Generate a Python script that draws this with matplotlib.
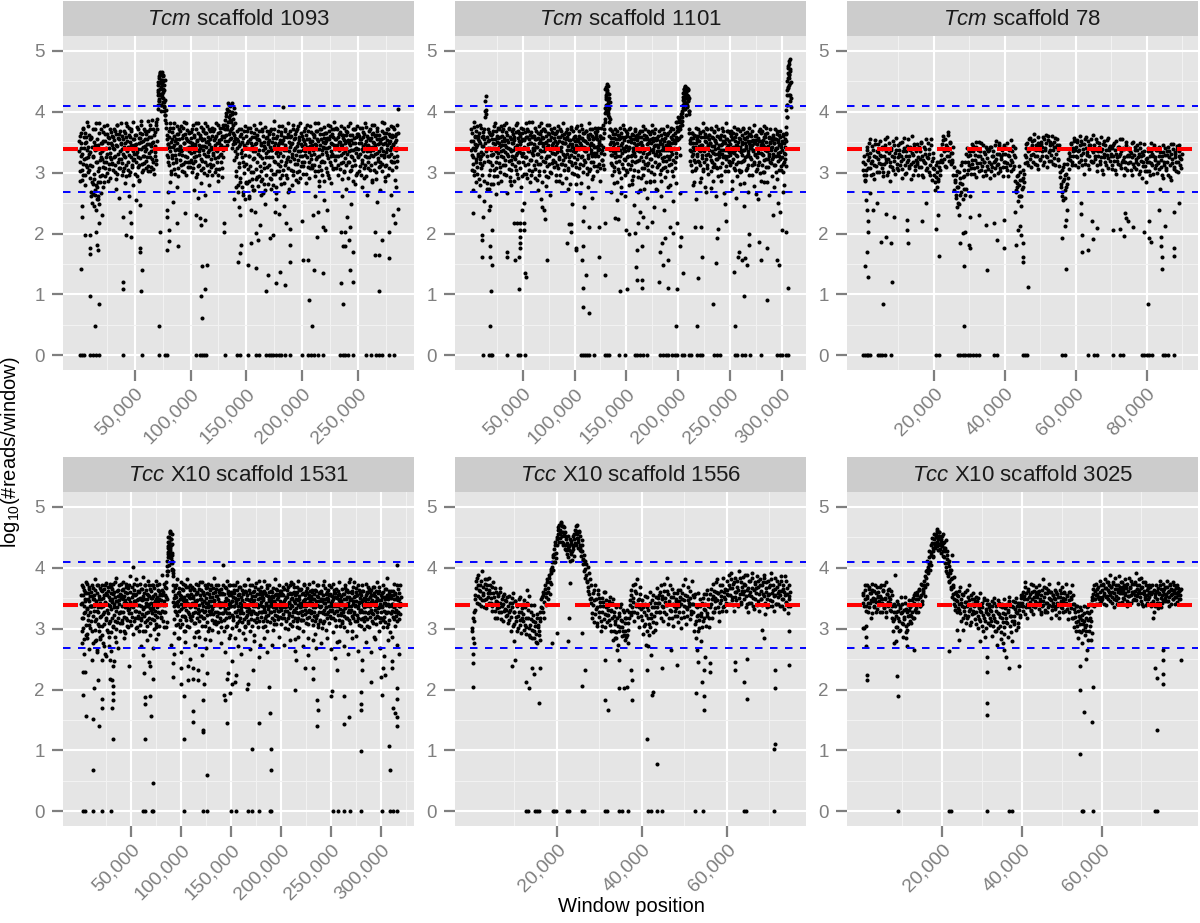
import matplotlib
matplotlib.use("Agg")
import matplotlib.pyplot as plt
from matplotlib.transforms import ScaledTranslation

plt.rcParams['font.family'] = ['Liberation Sans', 'DejaVu Sans']
plt.rcParams['mathtext.fontset'] = 'custom'
plt.rcParams['mathtext.rm'] = 'Liberation Sans'
plt.rcParams['mathtext.it'] = 'Liberation Sans:italic'
plt.rcParams['lines.scale_dashes'] = False

# ---------------------------------------------------------------- data
panel_species = ["Tcm", "Tcm", "Tcm", "Tcc", "Tcc", "Tcc"]
panel_names = ["scaffold 1093", "scaffold 1101", "scaffold 78",
               "X10 scaffold 1531", "X10 scaffold 1556", "X10 scaffold 3025"]

genome_mean = 3.39          # red dashed line, log10(reads/window)
fold_band = 0.699           # blue dashed lines at mean +/- log10(5)

y_ticks = [0, 1, 2, 3, 4, 5]
x_ticks_p1 = [50000, 100000, 150000, 200000, 250000]
x_ticks_p2 = [50000, 100000, 150000, 200000, 250000, 300000]
x_ticks_p3 = [20000, 40000, 60000, 80000]
x_ticks_p4 = [50000, 100000, 150000, 200000, 250000, 300000]
x_ticks_p5 = [20000, 40000, 60000]
x_ticks_p6 = [20000, 40000, 60000]

# windows: each text line = one block of windows (line_kb long, step_kb apart);
# "_b" blocks hold the interleaved windows (shifted by offset_kb).
# values are log10(#reads/window) x 100
p1_line_kb, p1_step_kb, p1_offset_kb = 10, 0.5, 0.25
p1_band = """
352 318 287 341 366 305 331 296 374 322 348 279 359 313 337 384 301 326 362 292
334 268 357 311 251 372 325 289 346 263 318 381 277 339 302 256 365 321 284 348
371 296 335 352 284 318 364 307 341 326 379 299 348 314 357 333 291 367 322 345
316 358 339 372 301 327 363 289 344 378 318 356 307 335 369 323 349 297 361 331
343 308 366 325 381 294 352 337 317 374 329 359 301 346 368 313 336 383 322 355
298 362 331 347 375 310 339 357 288 366 324 351 379 315 342 304 371 328 356 336
364 319 347 385 302 333 358 326 372 309 344 386 317 351 339 298 367 334 378 321
389 412 436 458 421 447 465 402 429 452 438 416 444 401 395 387 373 341 362 318
347 312 369 335 381 298 356 324 342 373 306 361 329 352 318 377 339 295 364 331
355 321 344 376 303 338 362 314 349 384 327 357 296 341 370 318 352 335 366 309
332 367 301 348 379 316 359 325 343 293 371 337 354 311 382 329 346 362 304 357
319 353 338 372 299 344 365 327 351 312 376 334 358 302 347 369 323 339 361 296
368 313 341 357 324 382 306 349 335 366 297 353 329 374 318 345 361 308 337 379
342 371 386 398 362 405 377 414 352 391 368 409 384 357 396 373 347 388 362 336
381 326 294 355 341 268 372 309 347 284 333 363 276 351 318 369 299 342 257 361
315 348 283 374 327 262 356 339 301 367 289 344 322 378 271 335 359 306 349 293
362 278 337 353 311 381 287 346 324 369 266 351 308 341 375 297 332 358 281 347
326 364 292 343 371 305 338 279 357 319 385 298 349 333 267 361 314 345 376 302
354 311 367 339 296 408 328 359 283 346 372 317 337 291 363 325 351 274 342 368
305 347 331 378 296 356 323 364 341 288 371 315 349 336 302 359 327 382 311 344
361 298 338 352 317 374 329 283 356 343 309 368 334 291 351 376 322 345 307 363
337 312 359 381 294 346 326 368 303 352 339 287 371 318 355 331 297 364 342 375
318 349 334 366 301 357 379 324 343 292 361 336 313 372 347 306 358 327 384 339
355 308 341 372 327 296 364 338 351 316 377 289 346 332 362 302 353 324 369 341
331 367 292 354 318 381 345 304 337 362 325 349 286 371 339 312 358 333 376 299
363 326 348 311 374 297 356 339 321 367 344 308 382 328 352 294 361 335 317 346
342 371 305 357 329 364 288 351 337 379 316 345 362 301 333 368 324 355 309 348
318 356 341 383 302 347 329 366 293 358 334 312 371 345 297 363 327 352 338 376
331 359 304 346 372 317 351 288 364 337 319 378 404
"""
p1_band_b = """
336 361 302 327 349 288 372 315 341 358 297 366 324 351 309 343 377 331 304 355
312 359 284 342 327 265 351 298 372 337 279 356 318 262 345 307 381 333 294 326
348 323 367 309 339 376 295 352 318 363 331 287 358 341 306 372 325 349 314 361
341 305 354 326 368 312 345 378 298 331 357 322 364 308 347 382 316 339 355 302
369 327 348 313 359 335 377 304 343 362 297 351 326 372 339 309 356 321 346 331
345 318 362 334 294 371 326 348 313 357 339 385 301 363 327 352 316 344 369 308
339 356 325 368 311 347 379 302 336 358 323 349 371 306 362 328 344 383 315 352
371 428 449 417 462 438 453 411 446 425 461 433 409 452 419 403 381 356 329 347
325 358 342 374 303 351 329 367 316 345 381 298 337 356 322 364 349 307 372 338
343 368 312 336 357 329 374 301 348 363 318 339 382 326 354 309 367 343 318 351
357 321 346 371 308 334 362 347 319 381 327 352 298 366 336 313 357 341 375 322
344 368 307 331 356 381 318 343 365 296 352 327 371 338 314 356 342 309 374 333
329 354 372 301 346 337 361 318 378 325 349 306 367 342 355 331 293 373 326 358
361 379 352 393 371 346 402 383 364 411 356 387 372 399 341 378 365 352 321 349
357 303 368 331 279 352 316 344 361 291 372 325 338 357 263 346 311 377 329 284
341 369 306 352 286 327 373 311 348 278 359 336 301 365 324 347 289 371 318 356
331 356 294 368 327 349 303 372 289 338 361 316 344 272 357 325 369 309 351 336
354 312 369 337 289 351 326 363 298 344 371 318 276 357 336 302 368 327 349 291
333 362 319 349 376 305 354 337 312 368 297 341 359 322 381 307 336 358 319 347
361 326 349 303 372 338 314 357 329 368 301 344 376 321 353 336 291 365 347 318
327 356 311 369 336 347 298 362 325 378 341 318 356 307 344 329 367 313 352 338
362 331 347 302 369 322 355 339 381 311 328 364 346 305 372 338 319 351 286 357
341 366 307 352 329 341 296 368 356 318 377 327 349 363 331 308 345 372 321 356
328 374 346 312 359 337 351 306 367 329 345 362 318 357 301 374 336 349 312 362
352 318 377 336 349 302 362 327 354 311 371 338 357 321 348 372 296 341 364 327
339 361 302 356 331 348 373 316 359 336 292 364 347 313 375 326 342 357 308 369
326 354 336 312 379 343 327 366 305 348 361 331 289 356 374 319 347 336 362 311
351 329 368 314 357 336 381 325 348 311 366 339 354 327 372 308 349 361 319 343
362 318 347 375 326 339 361 309 354 341 327 366
"""
p1_high = [(70.8, 4.05), (71.2, 4.32), (71.7, 4.18), (72.1, 4.55), (72.6, 4.27), (73.0, 4.61),
           (73.3, 4.40), (73.8, 4.12), (74.2, 4.49), (74.6, 4.66), (75.1, 4.22), (75.4, 4.58),
           (75.8, 4.35), (76.3, 4.08), (76.7, 3.95), (71.0, 4.44), (72.4, 4.63), (73.6, 4.29),
           (74.9, 4.51), (76.0, 4.16), (134.5, 4.02), (136.2, 4.12), (137.4, 4.15),
           (138.8, 4.06), (135.3, 3.95), (139.6, 3.98)]
p1_mid = [(11.2, 2.62), (12.4, 2.81), (13.1, 2.45), (14.3, 2.72), (15.2, 2.38), (16.4, 2.57),
          (17.1, 2.85), (18.3, 2.49), (19.6, 2.66), (20.8, 2.31), (21.3, 2.77), (33.5, 2.74),
          (36.2, 2.58), (41.7, 2.83), (44.8, 2.61), (48.3, 2.79), (51.2, 2.55), (53.6, 2.86),
          (55.1, 2.47), (79.6, 2.68), (81.9, 2.84), (84.3, 2.52), (87.5, 2.77), (103.4, 2.71),
          (106.8, 2.58), (109.1, 2.83), (113.3, 2.64), (116.2, 2.79), (124.5, 2.86),
          (139.4, 2.57), (141.2, 2.76), (143.5, 2.44), (147.1, 2.69), (149.8, 2.83),
          (152.6, 2.58), (156.2, 2.71), (157.9, 2.35), (163.4, 2.63), (165.7, 2.81),
          (167.1, 2.49), (172.3, 2.74), (176.8, 2.57), (181.2, 2.82), (183.9, 2.46),
          (187.6, 2.68), (191.3, 2.79), (196.4, 2.85), (211.7, 2.62), (215.3, 2.78),
          (219.4, 2.55), (225.8, 2.83), (235.6, 2.61), (239.7, 2.74), (243.9, 2.48),
          (247.2, 2.81), (253.8, 2.76), (258.4, 2.63), (263.1, 2.84), (266.7, 2.52),
          (269.9, 2.71), (274.2, 2.86), (279.3, 2.64), (284.6, 2.77), (285.6, 2.41)]
p1_low = [(2.1, 1.42), (2.7, 2.46), (2.7, 2.28), (5.7, 1.98), (9.6, 1.98), (10.2, 0.97),
          (10.2, 1.76), (10.2, 1.67), (14.0, 0.49), (14.9, 2.03), (16.1, 1.81), (16.7, 1.73),
          (17.6, 0.85), (17.6, 2.17), (39.5, 1.21), (39.5, 1.09), (39.5, 2.28), (42.5, 1.98),
          (46.3, 1.95), (45.4, 2.36), (46.9, 2.17), (54.4, 1.76), (54.4, 1.70), (56.8, 1.40),
          (55.9, 1.05), (72.4, 2.03), (71.5, 0.49), (78.9, 2.27), (78.9, 2.39), (80.4, 2.06),
          (80.4, 1.88), (79.2, 1.73), (88.2, 2.18), (89.1, 1.79), (94.8, 2.34), (105.2, 2.30),
          (108.2, 2.25), (109.7, 2.14), (109.7, 0.97), (110.3, 0.61), (112.7, 1.09),
          (110.6, 1.46), (115.1, 1.49), (112.7, 2.22), (130.1, 2.17), (130.1, 2.03),
          (142.6, 1.54), (144.1, 1.68), (145.6, 1.81), (144.1, 2.31), (151.6, 1.49),
          (159.1, 1.43), (154.6, 1.84), (159.1, 2.01), (160.6, 1.90), (162.1, 2.14),
          (154.6, 2.39), (168.0, 1.05), (169.5, 1.32), (171.0, 1.92), (174.0, 1.98),
          (177.0, 1.19), (180.6, 1.37), (185.1, 1.16), (189.0, 1.54), (175.5, 2.36),
          (179.1, 2.33), (189.0, 1.81), (189.0, 2.07), (186.0, 2.17), (200.3, 2.20),
          (200.9, 1.57), (205.4, 1.57), (206.3, 0.91), (209.0, 0.49), (210.5, 1.40),
          (218.9, 1.35), (209.9, 2.31), (214.4, 2.36), (218.9, 2.11), (220.4, 2.06),
          (221.9, 2.39), (213.8, 1.95), (234.7, 2.03), (238.3, 2.03), (236.8, 1.80),
          (238.3, 1.79), (234.7, 1.19), (237.1, 0.85), (242.8, 1.40), (245.8, 1.21),
          (245.8, 1.70), (242.2, 1.90), (240.4, 2.28), (242.8, 2.11), (265.2, 2.03),
          (265.2, 1.65), (268.8, 1.65), (268.8, 1.05), (271.2, 1.90), (277.8, 2.03),
          (277.8, 1.60), (281.7, 2.31), (283.1, 2.17)]
p1_zero_kb = [1.2, 2.7, 4.2, 10.2, 12.6, 15.5, 17.6, 39.5, 56.8, 71.5, 76.8, 78.9, 105.2,
              108.2, 110.3, 112.1, 114.2, 131.3, 141.7, 144.7, 151.6, 159.1, 161.2, 168.0,
              170.1, 171.9, 174.0, 176.4, 179.1, 181.5, 185.1, 189.0, 200.3, 205.4, 208.4,
              210.5, 214.4, 218.9, 233.8, 236.8, 238.9, 241.3, 245.8, 257.1, 262.2, 266.1,
              268.8, 271.2, 277.8, 282.5]

p2_line_kb, p2_step_kb, p2_offset_kb = 10, 0.5, 0.25
p2_band = """
338 371 305 352 326 384 296 347 361 318 343 377 309 356 331 289 366 322 349 374
327 358 296 344 361 318 372 392 418 403 336 283 352 319 367 274 341 305 362 329
363 312 348 331 377 294 356 339 308 369 325 351 283 374 342 316 359 301 335 368
346 325 372 298 357 334 312 381 343 267 362 328 351 306 374 339 293 356 321 348
315 364 337 286 359 322 378 304 345 333 369 292 352 317 361 341 276 373 328 356
371 333 298 354 341 313 382 326 359 291 347 368 305 336 362 321 349 384 302 338
329 361 347 306 373 319 355 288 342 366 331 377 297 353 314 369 336 285 358 344
357 302 339 368 324 351 379 311 346 293 363 328 354 337 372 299 345 316 366 333
341 374 318 352 287 365 334 349 308 377 323 358 296 342 369 315 351 331 382 304
363 326 348 291 356 338 372 307 344 319 366 281 353 329 375 312 347 336 359 298
334 361 309 345 376 322 352 295 368 339 314 357 283 346 371 327 354 301 342 365
352 317 369 336 298 358 324 381 341 306 363 332 349 289 372 318 355 343 311 367
327 364 343 302 355 338 374 315 349 286 361 333 357 321 378 342 306 366 389 398
421 437 409 442 415 398 384 361 338 372 316 351 329 297 364 342 309 357 333 371
318 349 284 362 337 356 301 373 328 345 267 359 314 341 379 322 353 296 336 368
344 301 366 327 352 279 341 374 313 356 329 288 362 335 349 304 371 318 357 342
362 319 347 293 358 336 271 369 325 351 307 344 377 296 338 362 315 355 284 347
331 368 305 354 341 287 363 322 349 378 311 339 357 298 366 329 346 274 353 336
355 312 343 369 298 331 362 286 347 324 371 308 352 338 293 364 319 345 377 303
338 366 322 351 279 343 373 314 356 331 295 362 341 308 349 384 326 353 369 392
356 341 372 329 384 361 392 378 398 411 425 433 416 441 404 428 437 412 439 419
423 371 348 319 357 336 302 365 331 349 284 362 317 343 374 308 353 327 361 341
318 352 335 367 291 346 324 381 306 358 339 277 363 329 351 313 372 344 298 356
362 327 349 303 371 336 318 357 286 344 368 331 352 309 376 322 341 295 359 334
331 358 296 345 373 316 352 338 267 361 327 349 382 311 343 356 302 368 334 319
347 312 369 334 286 357 323 341 375 305 352 329 363 294 346 318 371 338 357 301
356 334 302 362 347 319 371 338 283 355 326 344 367 308 352 331 374 297 341 363
323 361 345 296 353 337 378 314 348 329 265 362 341 306 357 333 369 318 352 287
345 368 312 354 329 376 301 343 358 322 351 284 366 338 309 359 327 348 372 316
337 354 295 362 326 348 371 313 341 356 289 364 332 351 305 345 323 368 342 311
352 326 364 301 318 279 342 331 365 403 428 451 476 439 462 487 418
"""
p2_band_b = """
352 329 366 314 341 375 303 358 337 322 369 345 298 361 327 352 316 378 334 307
344 312 367 331 355 287 349 401 426 397 359 328 341 372 296 354 318 363 337 281
329 356 341 369 305 347 382 318 336 361 294 357 333 348 371 309 344 327 376 352
361 337 313 352 378 321 346 297 367 331 354 341 319 372 286 358 336 305 369 327
348 372 326 354 311 343 367 329 381 298 357 318 365 336 347 307 352 333 294 366
318 356 342 367 325 359 298 341 372 335 314 355 383 321 349 296 367 332 358 341
361 312 338 355 291 342 368 331 357 315 349 302 364 338 381 326 348 357 319 372
336 372 318 349 361 294 343 327 366 354 315 378 339 301 358 332 367 321 348 309
357 331 363 297 344 368 312 338 359 326 352 341 371 314 336 283 362 348 321 357
329 349 312 367 331 358 305 364 326 353 337 347 318 372 343 299 356 368 325 341
352 316 374 338 297 356 342 329 361 308 349 378 325 341 357 312 366 337 321 352
336 368 341 307 349 329 362 303 356 345 372 318 337 361 327 346 294 357 332 374
358 332 311 368 344 327 352 339 361 307 346 374 321 338 312 357 331 372 384 407
428 412 446 431 403 423 391 372 347 329 357 312 368 336 351 302 347 326 363 338
355 327 368 306 343 361 319 338 357 291 366 332 349 308 371 337 321 359 342 305
326 361 337 314 371 343 306 358 327 351 364 319 341 295 356 333 368 327 345 361
338 353 302 366 321 349 336 359 292 346 368 319 332 355 308 371 339 326 361 312
357 316 349 332 367 323 338 355 301 368 334 352 287 344 318 372 331 357 309 345
328 361 336 315 352 347 305 371 338 356 319 343 366 325 357 309 337 362 327 351
351 313 346 368 327 359 336 302 348 372 321 339 354 317 366 332 358 375 384 371
369 357 389 376 372 396 385 401 419 406 438 421 427 443 415 432 422 408 437 426
402 365 337 354 312 349 328 366 343 357 321 338 305 361 348 331 356 319 372 337
344 366 312 337 358 329 345 302 369 336 317 352 341 374 323 358 307 346 331 362
337 348 373 321 344 359 309 332 367 315 354 339 322 348 361 307 371 331 346 325
356 309 338 362 331 347 325 368 351 338 302 356 323 337 369 328 345 317 352 366
329 361 341 355 318 342 366 307 332 359 338 315 346 372 328 351 339 304 342 368
338 317 351 329 373 337 357 321 349 366 304 341 327 358 335 312 348 362 326 346
352 341 313 368 335 318 349 361 331 354 302 347 326 337 312 352 341 372 299 333
366 331 349 301 345 358 321 337 364 309 373 336 322 344 357 331 351 318 341 357
322 343 358 331 349 312 337 356 301 328 368 341 319 353 362 327 358 334 305 347
337 361 315 348 333 356 323 311 352 391 412 441 463 428 455 471 448
"""
p2_high = [(129.8, 4.38), (130.2, 4.25), (130.7, 4.41), (131.1, 4.12), (131.6, 4.33),
           (132.0, 4.20), (132.4, 4.42), (132.9, 4.07), (133.3, 4.29), (133.8, 4.16),
           (130.4, 4.02), (132.6, 3.95), (134.2, 3.88), (131.4, 4.36), (133.1, 4.23),
           (204.6, 4.12), (205.1, 4.31), (205.5, 4.05), (206.0, 4.38), (206.4, 4.22),
           (206.9, 4.41), (207.3, 4.15), (207.8, 4.34), (208.2, 4.09), (208.7, 4.27),
           (209.1, 4.36), (209.6, 4.18), (210.0, 4.02), (210.4, 3.97), (205.8, 4.25),
           (207.6, 3.94), (203.8, 3.92), (203.2, 3.83), (305.0, 4.12), (305.4, 4.35),
           (305.8, 4.56), (306.2, 4.72), (306.6, 4.44), (307.0, 4.61), (307.4, 4.83),
           (307.8, 4.28), (308.2, 4.67), (308.6, 4.49), (309.0, 4.22), (309.3, 4.08),
           (304.8, 3.92), (304.2, 3.75), (303.8, 3.64), (306.8, 4.79)]
p2_mid = [(2.4, 2.72), (4.8, 2.85), (7.3, 2.61), (9.1, 2.79), (12.6, 2.53), (15.8, 2.74),
          (18.2, 2.46), (21.7, 2.82), (23.9, 2.65), (29.4, 2.87), (38.2, 2.79), (57.3, 2.84),
          (64.6, 2.71), (67.2, 2.56), (72.9, 2.78), (76.4, 2.63), (85.1, 2.86), (93.8, 2.74),
          (97.2, 2.49), (101.6, 2.81), (104.9, 2.66), (109.3, 2.44), (112.7, 2.77),
          (116.5, 2.59), (134.8, 2.68), (137.6, 2.83), (141.1, 2.55), (145.3, 2.76),
          (148.6, 2.62), (155.7, 2.81), (157.4, 2.47), (160.9, 2.69), (163.2, 2.36),
          (166.8, 2.74), (170.3, 2.58), (173.1, 2.85), (176.5, 2.43), (179.4, 2.71),
          (183.7, 2.62), (186.2, 2.38), (189.8, 2.77), (194.6, 2.54), (198.3, 2.83),
          (201.5, 2.66), (214.2, 2.79), (217.6, 2.57), (221.3, 2.84), (226.9, 2.68),
          (231.4, 2.75), (236.8, 2.61), (241.2, 2.86), (245.5, 2.49), (252.3, 2.73),
          (255.9, 2.58), (259.4, 2.82), (263.7, 2.45), (267.2, 2.69), (272.8, 2.78),
          (277.1, 2.56), (282.6, 2.84), (287.9, 2.63), (292.4, 2.77), (296.8, 2.51),
          (301.3, 2.69)]
p2_low = [(1.8, 2.34), (10.8, 1.97), (10.8, 1.90), (10.8, 1.62), (18.8, 1.80), (18.8, 1.61),
          (18.8, 0.49), (19.5, 1.05), (20.4, 2.06), (20.4, 1.48), (11.8, 2.28), (17.2, 2.39),
          (34.9, 1.70), (34.9, 1.61), (42.9, 1.56), (41.9, 2.17), (44.5, 2.17), (46.1, 1.62),
          (47.7, 1.76), (47.7, 1.84), (47.7, 1.95), (47.7, 2.06), (47.7, 2.17), (46.1, 1.09),
          (50.9, 2.17), (50.9, 2.06), (52.5, 1.35), (53.2, 1.28), (49.3, 2.39), (50.9, 2.50),
          (68.6, 2.44), (70.2, 2.39), (71.8, 2.24), (73.4, 1.57), (92.7, 1.84), (94.3, 2.15),
          (96.5, 2.15), (96.5, 2.02), (101.3, 1.76), (101.3, 1.73), (107.1, 1.57),
          (107.8, 1.80), (107.8, 1.11), (107.8, 0.79), (113.5, 0.70), (111.0, 1.32),
          (108.1, 2.21), (113.5, 2.11), (123.2, 2.11), (123.2, 1.61), (129.0, 1.32),
          (129.0, 2.18), (139.2, 2.25), (142.4, 2.24), (143.4, 1.05), (149.5, 2.06),
          (152.1, 1.99), (150.5, 1.09), (159.1, 1.45), (160.1, 1.73), (164.9, 1.79),
          (160.1, 1.24), (165.5, 1.24), (165.5, 1.10), (158.5, 2.01), (161.7, 2.17),
          (166.5, 2.28), (169.7, 2.11), (174.5, 2.19), (182.6, 1.70), (185.1, 1.49),
          (181.6, 1.21), (190.6, 1.57), (190.6, 1.11), (187.4, 1.92), (184.8, 1.84),
          (192.2, 2.11), (195.4, 2.01), (198.6, 2.17), (198.6, 1.09), (197.7, 0.49),
          (202.8, 1.95), (201.8, 1.79), (204.4, 1.35), (217.9, 0.49), (218.9, 1.27),
          (216.3, 2.11), (222.1, 2.11), (222.7, 1.61), (234.0, 0.85), (236.2, 1.51),
          (237.2, 1.92), (238.8, 2.07), (245.8, 2.20), (254.2, 1.37), (257.4, 1.62),
          (258.7, 1.70), (261.2, 1.56), (266.1, 1.49), (264.5, 1.60), (263.5, 0.97),
          (254.8, 0.49), (268.6, 1.81), (268.6, 2.00), (278.0, 1.87), (279.6, 1.57),
          (285.3, 0.91), (286.0, 1.76), (295.0, 1.56), (297.5, 1.48), (300.7, 2.06),
          (303.9, 2.03), (306.2, 1.11), (291.7, 2.31), (298.2, 2.36)]
p2_zero_kb = [11.4, 17.2, 19.5, 20.4, 34.9, 45.1, 47.7, 52.5, 106.2, 107.8, 109.7, 111.9,
              113.5, 119.0, 129.0, 131.2, 133.4, 143.1, 148.9, 158.5, 160.7, 163.3, 165.6,
              169.7, 182.6, 185.1, 188.4, 190.6, 193.8, 197.0, 199.3, 203.4, 205.7, 210.5,
              212.1, 217.9, 221.1, 223.4, 234.9, 237.2, 240.4, 254.8, 257.1, 261.9, 264.5,
              269.3, 279.9, 295.0, 298.2, 300.7, 303.9, 306.2]

p3_line_kb, p3_step_kb, p3_offset_kb = 5, 0.25, 0.125
p3_band = """
318 296 287 305 331 342 308 326 355 297 319 338 289 312 347 325 301 334 316 352
327 308 339 294 315 346 322 359 301 333 287 318 341 309 352 326 298 337 314 345
305 331 348 319 292 336 357 312 328 299 344 321 307 338 315 361 296 329 342 311
336 314 297 343 322 309 351 328 293 317 339 304 326 348 301 331 312 356 288 324
297 284 312 276 301 289 318 305 329 347 361 322 338 356 309 343 367 327 351 314
332 318 296 271 285 259 303 276 248 291 264 312 282 257 295 318 274 341 305 327
312 335 298 321 344 307 329 351 293 316 338 303 327 349 311 295 334 318 302 342
324 306 337 291 315 343 309 328 296 319 352 313 299 331 345 308 322 337 294 317
331 309 348 316 295 327 339 302 318 344 311 326 287 268 294 253 279 301 262 288
276 305 298 329 347 318 336 356 323 341 309 352 331 363 314 338 327 349 306 344
322 347 335 358 317 341 362 328 309 353 334 346 319 361 337 324 351 313 342 356
338 311 293 276 304 262 287 315 271 298 282 323 306 339 327 348 318 335 357 312
343 326 354 309 338 361 321 347 332 298 356 314 341 329 352 306 345 319 337 362
317 341 328 355 303 336 349 314 326 358 339 298 331 346 312 353 324 307 338 344
328 306 345 319 337 352 298 326 314 343 331 308 355 321 296 339 317 346 304 329
341 318 332 297 326 351 309 337 322 345 314 331 349 303 327 292 318 336 311 284
302 324 341 317 296 335 313 328 346 307 321 338 299 316 343 274 309 327 291 334
318 341 305 329 297 336 312 347 288 323 339 306 331 318 344 301 327 335 312 323
"""
p3_band_b = """
305 327 314 296 338 321 349 307 332 316 344 298 327 353 311 336 322 347 301 329
314 342 301 327 356 318 335 296 322 349 311 338 327 304 345 319 333 357 308 326
338 312 327 351 306 323 341 298 335 318 356 327 311 343 289 332 318 347 304 321
318 347 326 309 335 348 297 321 343 316 331 356 308 324 339 297 345 319 333 307
306 271 293 318 287 309 296 321 341 318 354 336 311 345 327 362 338 319 348 332
321 343 309 288 264 297 276 251 301 283 268 317 293 274 305 263 331 298 318 336
329 308 347 315 336 298 321 342 309 327 351 316 335 304 323 346 318 331 297 339
311 335 318 342 302 327 336 318 345 307 323 331 315 348 302 327 341 309 331 346
318 341 305 329 338 312 354 321 335 306 329 341 271 283 297 262 311 288 246 274
291 284 316 341 325 349 312 338 357 329 346 318 339 354 328 345 312 358 337 321
351 328 343 312 355 337 349 326 361 319 338 351 329 347 314 342 357 331 346 323
321 346 301 282 268 309 289 258 296 277 314 292 333 321 347 312 341 328 352 338
327 351 336 318 345 329 352 313 339 347 321 358 334 312 346 328 341 355 317 334
346 322 337 312 351 328 342 319 336 304 347 325 352 318 337 329 357 341 319 331
312 341 327 348 304 331 319 342 327 355 312 336 318 341 325 307 351 328 339 316
327 336 305 348 314 329 342 318 306 337 325 298 341 319 334 311 329 347 302 322
317 336 302 327 349 316 331 298 343 325 312 337 318 328 306 334 321 297 345 313
329 307 336 318 342 325 293 331 316 347 309 334 326 302 339 317 346 324 308 331
"""
p3_high = []
p3_mid = []
p3_low = [(0.55, 2.88), (0.83, 2.55), (1.01, 2.39), (1.30, 2.20), (1.30, 2.03), (1.01, 1.70),
          (0.55, 1.47), (1.48, 1.28), (5.04, 1.87), (6.44, 1.95), (7.84, 1.84), (8.12, 1.21),
          (5.69, 0.85), (6.44, 2.33), (8.78, 2.28), (12.5, 2.22), (12.5, 2.06), (12.8, 1.84),
          (16.7, 2.20), (17.8, 2.50), (4.1, 2.50), (2.7, 2.39), (2.0, 2.66), (20.5, 2.07),
          (21.4, 1.63), (21.2, 2.31), (26.5, 2.44), (27.0, 2.31), (27.5, 1.84), (28.1, 2.01),
          (28.4, 1.46), (28.4, 0.49), (28.9, 2.03), (29.8, 1.81), (30.1, 1.76), (30.1, 2.28),
          (30.3, 2.61), (32.6, 2.31), (34.8, 2.14), (35.0, 1.40), (37.1, 2.18), (37.9, 1.90),
          (39.9, 2.22), (39.9, 1.76), (42.9, 2.36), (43.2, 1.81), (43.8, 2.06), (44.3, 2.13),
          (44.6, 1.98), (45.0, 1.84), (45.0, 1.62), (45.0, 1.54), (46.5, 1.12), (44.3, 2.61),
          (43.4, 2.77), (56.2, 1.92), (57.2, 1.42), (56.9, 2.13), (57.4, 2.22), (57.6, 2.39),
          (56.5, 2.55), (61.6, 2.32), (61.8, 1.98), (61.8, 1.70), (63.5, 1.73), (64.7, 2.21),
          (64.9, 1.91), (66.1, 2.10), (61.6, 2.50), (70.5, 2.06), (72.6, 2.07), (73.6, 1.96),
          (73.8, 2.34), (74.2, 2.25), (74.7, 2.20), (76.1, 2.11), (79.4, 2.03), (80.3, 0.85),
          (80.6, 2.21), (80.8, 1.92), (81.2, 1.87), (83.4, 2.39), (84.2, 1.95), (84.2, 1.79),
          (84.3, 1.61), (84.3, 1.42), (85.3, 2.13), (87.6, 1.76), (87.8, 1.63), (87.8, 2.36),
          (89.0, 2.50)]
p3_zero_kb = [0.1, 0.55, 1.0, 1.5, 1.95, 4.3, 4.85, 5.5, 6.15, 8.0, 20.65, 21.4, 26.8, 27.5,
              28.1, 28.9, 29.5, 30.3, 31.0, 32.0, 32.6, 37.1, 37.8, 45.0, 45.7, 46.4, 56.2,
              56.9, 63.5, 65.2, 66.0, 70.5, 72.5, 73.3, 78.6, 79.4, 80.0, 80.8, 81.5, 84.5,
              85.2, 85.9, 87.8]

p4_line_kb, p4_step_kb, p4_offset_kb = 10, 0.5, 0.25
p4_band = """
341 296 372 318 355 283 364 327 349 306 377 334 291 358 322 345 369 301 337 361
312 354 338 276 367 329 349 298 381 316 343 265 359 327 372 304 348 319 286 363
336 372 289 351 324 366 307 342 259 375 318 355 331 294 362 339 271 347 313 368
358 317 344 373 302 336 361 287 352 329 383 311 346 268 364 325 341 296 357 374
327 363 309 348 376 319 354 335 293 369 342 314 358 331 302 371 325 386 344 338
306 352 337 401 291 345 373 318 356 329 381 303 347 362 321 339 296 374 351 314
366 324 348 385 297 359 335 311 371 342 326 357 304 378 338 317 353 289 365 331
343 371 316 354 332 299 367 345 322 379 308 352 336 363 291 348 374 326 357 341
319 356 388 339 361 302 345 368 327 352 376 311 403 394 426 441 418 457 432 409
448 421 396 387 362 337 293 356 329 371 306 344 323 359 338 285 367 314 349 376
332 365 308 347 374 321 352 338 296 369 315 343 381 327 356 302 341 363 319 350
357 314 342 369 325 351 287 364 336 309 373 345 318 358 333 297 366 329 348 377
321 349 376 304 338 361 317 355 329 283 367 342 311 359 336 374 301 346 324 363
346 371 332 298 359 324 347 384 312 339 366 307 353 328 372 295 344 361 318 339
365 312 343 357 326 405 341 296 368 333 351 318 379 304 347 362 325 356 289 372
338 358 301 346 372 319 337 363 284 351 327 345 376 309 355 331 298 368 342 317
352 327 364 339 293 358 316 343 371 305 336 361 322 348 382 312 347 333 359 297
316 348 372 305 344 329 362 289 353 337 375 318 341 366 303 357 328 351 274 369
344 361 327 351 312 378 336 304 359 342 321 367 296 354 333 345 372 311 338 362
328 353 342 298 367 315 346 381 323 357 308 339 364 329 352 287 371 336 319 355
362 336 317 356 341 273 365 329 348 374 313 352 338 299 368 322 344 359 307 376
339 305 351 374 327 346 361 318 283 357 334 369 312 347 325 378 301 353 336 364
314 366 338 323 359 296 347 372 331 355 309 342 367 328 351 284 373 319 345 339
353 329 364 342 306 376 321 348 335 291 362 317 354 339 371 303 346 327 361 312
337 362 301 348 325 356 379 313 342 367 298 335 351 324 363 346 309 372 331 357
368 318 345 331 374 294 359 337 314 352 329 366 341 278 355 322 347 376 305 344
323 354 366 309 341 328 357 302 372 336 318 349 364 297 338 361 315 352 382 327
349 331 296 362 317 345 376 324 353 339 288 367 312 356 334 371 306 342 328 359
356 305 347 371 328 362 336 299 351 319 374 343 316 358 325 349 366 302 337 361
331 364 313 342 356 324 287 369 338 353 307 345 377 321 359 334 296 362 341 318
347 318 359 336 302 371 329 352 343 311 366 325 354 383 308 349 337 362 294 355
326 362 341 287 355 319 373 336 304 358 348 331 404 312 365 327 349 338 371 343
"""
p4_band_b = """
356 318 342 369 301 337 325 361 346 289 358 332 374 315 349 306 366 327 353 338
337 371 296 349 321 356 338 312 364 281 345 329 371 308 336 353 297 367 342 321
349 305 362 337 277 356 328 371 344 315 359 298 341 368 326 352 309 374 338 294
332 366 349 305 357 323 341 376 312 345 299 362 335 353 318 371 347 309 328 356
351 314 338 365 327 343 297 361 347 318 373 336 304 351 367 332 349 313 361 326
341 368 319 357 336 312 364 329 345 301 357 339 372 318 348 327 361 349 306 337
318 347 366 332 354 321 349 371 296 338 363 315 348 327 356 341 372 309 334 351
362 326 351 337 372 314 342 357 329 303 348 371 319 346 328 362 305 339 356 318
347 329 364 312 341 373 328 356 339 367 302 349 389 417 442 428 451 436 461 422
437 412 398 372 344 351 316 343 367 328 352 339 381 307 346 361 329 355 302 341
354 321 348 336 363 297 342 371 319 347 331 356 305 368 339 324 352 371 336 314
338 367 321 353 341 366 309 345 328 357 294 361 347 326 371 312 339 355 321 349
363 331 343 318 359 327 346 372 305 351 336 323 368 341 297 357 329 352 366 338
329 352 314 367 338 345 309 361 327 354 372 321 339 311 348 363 326 357 336 302
342 359 326 371 338 314 357 329 346 367 303 341 326 358 334 319 371 342 337 355
361 323 346 314 352 338 359 327 371 305 342 363 321 337 348 312 357 326 369 331
336 347 311 357 326 372 338 302 362 319 349 329 356 337 309 364 328 372 341 324
342 329 353 338 361 314 347 326 369 311 341 357 324 349 336 378 312 339 362 327
319 356 338 303 347 331 362 317 328 356 339 312 372 337 322 361 349 328 352 341
347 318 361 336 352 329 307 356 342 334 366 321 348 316 339 357 329 362 345 308
331 357 342 324 369 317 345 336 301 352 338 329 364 318 357 343 326 372 334 349
357 321 338 359 312 368 331 343 356 327 348 303 361 339 317 349 366 328 342 315
341 329 357 346 315 373 338 324 349 362 337 358 318 343 307 356 331 362 328 351
326 361 314 335 349 328 357 363 312 339 346 323 371 307 352 338 359 315 336 349
358 327 346 371 309 342 331 348 324 357 336 361 317 349 328 356 338 321 355 342
329 354 337 318 349 363 326 341 358 337 305 351 329 362 338 314 357 332 349 326
346 312 339 357 331 349 321 367 334 341 362 318 352 327 343 376 331 309 347 361
337 358 321 341 369 328 352 312 338 361 346 322 355 337 318 344 363 329 351 316
331 344 362 318 339 351 312 347 328 356 337 361 305 343 369 327 338 352 319 344
355 326 347 368 309 342 359 331 317 346 362 328 351 336 319 347 368 311 335 356
328 352 337 315 361 343 319 348 366 327 339 356 303 341 328 357 315 339 352 326
351 338 329 362 341 316 349 327 357 321 339 352 372 326 347 316 359 338 324 352
"""
p4_high = [(86.0, 4.12), (86.5, 4.35), (87.0, 4.22), (87.4, 4.51), (87.8, 4.04), (88.3, 4.42),
           (88.7, 4.58), (89.2, 4.29), (89.6, 4.47), (90.1, 4.16), (90.5, 4.39), (91.0, 4.08),
           (91.4, 4.25), (91.9, 3.96), (92.2, 3.91), (87.2, 4.33), (88.9, 4.18), (90.8, 4.55),
           (85.8, 3.94)]
p4_mid = [(1.2, 2.76), (3.4, 2.58), (5.8, 2.84), (8.1, 2.67), (10.6, 2.49), (13.9, 2.79),
          (16.2, 2.62), (19.4, 2.83), (22.7, 2.71), (25.3, 2.55), (27.8, 2.86), (30.1, 2.64),
          (33.4, 2.47), (35.2, 2.78), (42.6, 2.85), (59.8, 2.72), (62.3, 2.57), (66.1, 2.81),
          (68.4, 2.46), (71.5, 2.69), (74.8, 2.83), (89.6, 2.74), (93.2, 2.59), (96.7, 2.85),
          (100.4, 2.62), (104.1, 2.78), (108.5, 2.51), (113.9, 2.73), (118.2, 2.86),
          (121.3, 2.57), (125.4, 2.69), (128.6, 2.81), (139.7, 2.77), (143.8, 2.61),
          (147.6, 2.84), (151.2, 2.47), (156.8, 2.72), (160.3, 2.58), (164.1, 2.83),
          (168.7, 2.66), (173.2, 2.79), (177.5, 2.53), (182.9, 2.85), (186.4, 2.62),
          (190.7, 2.74), (209.3, 2.81), (213.6, 2.63), (217.2, 2.86), (221.8, 2.71),
          (227.4, 2.57), (231.9, 2.82), (235.1, 2.68), (239.6, 2.77), (246.3, 2.84),
          (250.1, 2.66), (253.8, 2.52), (258.4, 2.79), (262.6, 2.71), (266.9, 2.58),
          (271.3, 2.85), (276.7, 2.64), (281.4, 2.49), (285.2, 2.78), (289.7, 2.62),
          (294.3, 2.83), (298.6, 2.69), (302.9, 2.55), (307.4, 2.81), (311.2, 2.47),
          (315.8, 2.73), (318.4, 2.59)]
p4_low = [(2.3, 2.29), (4.0, 2.29), (2.3, 1.91), (4.7, 1.56), (12.3, 1.51), (12.3, 0.68),
          (13.0, 2.02), (17.3, 2.16), (18.3, 1.41), (20.7, 1.85), (20.7, 1.69), (21.3, 2.49),
          (29.0, 2.18), (30.7, 2.16), (32.3, 2.06), (32.3, 1.94), (31.7, 1.83), (30.7, 1.69),
          (32.3, 1.19), (29.0, 2.49), (31.7, 2.38), (48.0, 2.39), (63.0, 2.27), (64.0, 1.88),
          (64.0, 1.77), (64.0, 1.19), (69.0, 2.38), (69.0, 1.89), (69.7, 1.57), (72.3, 2.17),
          (72.3, 0.47), (92.3, 2.43), (92.3, 2.21), (99.7, 2.10), (99.7, 2.35), (103.0, 1.89),
          (103.3, 1.19), (107.3, 2.38), (107.3, 2.16), (111.7, 1.65), (111.7, 1.47),
          (111.7, 2.35), (112.3, 2.18), (117.3, 2.32), (117.3, 2.16), (121.7, 1.83),
          (121.7, 1.34), (122.3, 1.30), (126.3, 0.60), (123.0, 2.10), (125.7, 2.27),
          (143.0, 1.91), (144.0, 1.83), (145.7, 1.45), (149.0, 1.94), (150.7, 2.10),
          (145.7, 2.18), (147.3, 2.27), (155.0, 2.24), (154.0, 2.13), (165.7, 2.01),
          (167.3, 2.10), (170.7, 1.03), (178.3, 1.45), (172.3, 2.32), (188.3, 2.05),
          (189.0, 1.61), (189.7, 1.03), (189.7, 0.68), (214.0, 1.99), (215.0, 2.49),
          (224.0, 2.35), (232.3, 2.35), (232.3, 2.17), (235.7, 1.83), (236.7, 1.66),
          (236.3, 1.40), (249.7, 1.89), (250.7, 1.98), (255.7, 2.32), (263.0, 1.89),
          (268.3, 1.55), (263.0, 1.44), (280.0, 1.96), (280.0, 1.77), (280.0, 1.66),
          (280.0, 0.99), (280.7, 2.32), (290.0, 2.13), (300.7, 1.91), (301.7, 2.35),
          (308.3, 1.08), (309.0, 0.68), (311.7, 1.69), (314.0, 1.61), (315.7, 2.02),
          (315.7, 1.84), (315.7, 1.55), (316.3, 1.40), (299.7, 2.21), (304.0, 2.24),
          (310.7, 2.35)]
p4_zero_kb = [1.7, 4.0, 12.3, 20.7, 29.7, 61.7, 64.0, 70.7, 72.3, 103.3, 121.7, 126.3, 149.7,
              155.0, 167.3, 170.7, 178.3, 189.0, 190.0, 251.7, 257.3, 263.0, 269.0, 280.0,
              300.7, 309.0, 312.3, 316.3]

p5_line_kb, p5_step_kb, p5_offset_kb = 4, 0.2, 0.1
p5_band = """
297 284 312 331 356 378 342 389 364 351 372 338 395 359 347 381 366 334 371 352
384 358 343 369 337 376 352 329 361 344 318 353 336 367 328 349 312 341 357 333
346 322 338 354 315 331 296 342 359 327 308 346 319 337 301 328 352 314 293 334
324 347 306 318 292 364 331 301 287 339 316 298 322 284 305 291 318 277 303 296
318 336 352 327 361 344 372 358 381 349 367 389 376 394 402 418 431 409 442 425
438 456 471 449 462 474 443 458 467 437 452 429 441 417 436 448 422 439 413 431
447 462 438 455 471 442 458 433 419 446 428 407 395 412 388 376 401 369 357 382
342 326 358 311 347 372 333 305 364 319 351 338 296 327 344 316 361 302 335 322
338 314 352 297 329 343 281 321 308 336 294 317 273 326 302 341 288 312 296 327
309 286 331 298 276 318 339 356 327 371 344 312 362 338 381 319 349 302 357 333
341 292 327 353 308 274 336 318 289 361 302 324 347 311 336 298 352 328 367 343
356 328 371 337 349 313 362 344 324 383 339 357 318 341 329 366 304 352 337 321
334 358 311 346 327 363 301 348 372 319 337 355 308 332 369 343 316 351 324 378
341 296 357 312 284 336 322 301 348 279 326 343 312 357 331 304 364 325 349 318
339 366 318 354 373 328 345 361 382 336 358 313 371 347 329 384 352 338 366 343
378 356 388 341 367 392 352 374 329 361 383 347 369 338 394 357 376 344 362 385
349 371 336 363 388 327 356 378 342 367 391 351 333 374 359 386 345 368 329 381
362 339 376 353 388 324 367 348 379 357 338 372 391 346 364 329 383 355 341 369
358 374 337 362 386 349 371 333 356 378 344 367 326 353 361
"""
p5_band_b = """
301 318 327 349 367 383 354 372 341 362 378 347 369 356 336 374 349 381 358 343
363 372 351 329 358 341 367 318 346 334 357 327 342 361 316 338 354 329 347 321
331 352 309 327 343 319 336 351 304 328 346 312 339 297 321 348 306 327 318 341
312 298 336 303 342 318 289 353 306 327 284 313 339 297 311 278 324 306 289 312
328 349 334 356 318 366 339 352 376 361 384 357 391 373 409 396 423 437 416 448
451 467 443 461 476 452 469 438 457 431 447 423 452 437 429 411 444 427 435 419
456 441 468 449 432 461 437 452 427 438 413 421 398 384 407 379 362 391 348 371
351 317 339 363 324 348 309 336 357 328 344 313 351 305 338 361 324 347 311 331
323 345 306 331 318 349 297 327 312 284 339 305 321 297 336 315 303 331 289 318
296 318 289 309 327 347 322 364 336 351 328 373 341 358 326 347 336 369 321 347
315 336 304 341 322 297 352 331 308 343 317 336 295 356 321 342 309 336 351 327
342 361 318 354 336 373 327 351 339 362 308 346 331 372 352 317 341 358 329 345
348 321 364 337 352 318 341 359 327 347 381 336 354 321 347 337 362 329 341 356
327 352 308 337 321 358 296 314 337 321 302 351 332 318 341 357 321 338 303 336
357 341 349 327 362 351 334 376 347 359 328 343 362 353 371 336 361 348 329 357
364 341 372 356 381 347 367 339 376 352 361 378 339 364 351 383 341 369 357 373
362 388 354 341 367 379 342 361 353 384 337 363 376 348 367 339 378 357 371 348
349 371 357 384 342 361 377 336 356 368 347 381 359 337 372 353 366 341 378 352
341 362 356 378 337 366 349 361 387 342 357 338 372 348 337
"""
p5_high = [(20.3, 4.62), (20.7, 4.55), (21.1, 4.68), (21.5, 4.41), (21.9, 4.59), (23.7, 4.52),
           (24.1, 4.38), (24.5, 4.61), (24.9, 4.47), (25.3, 4.29), (19.1, 4.21), (19.5, 4.09),
           (18.7, 3.98), (22.5, 4.33), (26.1, 4.15), (23.3, 4.26)]
p5_mid = []
p5_low = [(0.15, 2.43), (0.15, 2.59), (0.15, 2.04), (0.4, 2.76), (9.4, 2.38), (10.2, 2.49),
          (9.8, 2.79), (12.7, 2.13), (13.5, 2.02), (14.1, 2.35), (14.7, 2.26), (15.8, 1.78),
          (15.9, 2.35), (15.9, 2.82), (18.8, 2.76), (20.0, 2.93), (22.7, 2.79), (22.9, 3.17),
          (23.1, 3.75), (25.9, 2.93), (26.5, 2.33), (25.9, 2.06), (31.2, 2.49), (31.2, 1.83),
          (32.0, 1.66), (34.5, 2.49), (34.7, 2.02), (35.7, 2.02), (36.5, 2.05), (34.1, 2.65),
          (33.7, 2.84), (36.1, 2.82), (37.6, 1.83), (37.6, 2.16), (37.4, 2.32), (41.2, 2.33),
          (41.2, 1.19), (42.3, 1.91), (43.5, 0.78), (42.7, 1.96), (44.8, 2.35), (42.2, 2.57),
          (41.5, 2.71), (48.2, 2.40), (46.9, 2.65), (52.9, 2.65), (53.1, 2.46), (52.8, 1.94),
          (54.2, 2.13), (54.5, 2.33), (54.6, 1.89), (54.6, 1.66), (54.9, 2.54), (56.1, 2.29),
          (56.1, 2.43), (61.8, 2.46), (61.8, 2.32), (64.1, 2.13), (64.7, 1.85), (64.7, 2.51),
          (71.2, 2.32), (71.2, 2.02), (71.0, 1.03), (71.2, 1.11), (74.7, 2.40), (74.6, 2.97),
          (68.6, 2.84), (68.2, 2.98)]
p5_zero_kb = [12.7, 13.2, 14.9, 15.3, 15.8, 19.0, 19.4, 19.8, 22.3, 22.9, 25.9, 26.4, 31.2,
              31.7, 34.6, 35.3, 36.7, 41.5, 42.2, 43.5, 44.7, 52.5, 54.3, 64.1, 64.4, 71.1]

p6_line_kb, p6_step_kb, p6_offset_kb = 4, 0.2, 0.1
p6_band = """
342 358 301 364 337 372 351 328 366 343 359 318 374 346 335 362 349 327 368 353
361 339 354 372 327 348 363 334 351 376 319 357 344 366 331 349 362 338 297 341
316 389 327 302 341 318 296 334 352 309 328 287 319 343 305 332 298 321 347 313
336 309 328 351 317 342 358 334 361 327 349 366 338 355 371 346 362 379 353 368
383 374 392 406 418 397 426 441 432 419 448 437 456 443 461 429 452 438 447 424
436 419 442 408 427 395 414 386 403 378 391 365 384 357 372 349 338 361 327 346
354 331 368 312 342 357 298 336 323 361 344 317 352 329 371 306 339 348 324 359
337 316 352 328 345 301 334 358 312 327 343 296 318 351 287 332 347 309 324 341
306 329 346 288 322 351 313 297 338 274 326 342 305 319 283 336 311 348 292 324
317 341 286 328 352 304 321 337 279 346 313 332 298 351 325 309 338 343 319 356
342 361 329 353 377 336 348 318 366 341 357 373 331 349 324 362 345 338 369 352
357 332 371 346 324 363 339 381 352 328 367 343 358 336 374 349 318 361 337 355
338 364 349 322 357 375 341 318 352 336 369 345 327 358 341 373 332 354 316 347
361 334 349 372 318 341 302 327 296 338 312 284 321 307 331 276 315 298 326 289
318 297 336 282 325 304 341 313 352 366 338 349 362 374 357 341 368 352 379 346
363 348 371 356 382 339 367 354 376 361 345 388 369 352 374 336 359 383 347 366
372 351 386 364 343 377 359 369 348 381 356 371 338 362 384 353 367 342 374 358
361 348 377 392 354 366 341 371 359 383 346 368 337 357 376 352 339 363 348 371
352 369 338 361 317 346 328 357 371 343 362 334 359 378 351 366 342 374 357 345
368 354 379 346 362 337 371 355 364 349 376 358 341 367 352 372 361 348 363 355
"""
p6_band_b = """
356 337 349 371 329 354 342 368 336 358 347 326 363 351 338 371 344 359 333 352
346 368 327 351 343 362 336 371 349 328 357 364 338 352 343 329 356 318 312 327
338 302 321 346 329 313 337 298 326 341 307 331 316 352 294 327 339 308 331 322
321 347 339 318 356 331 348 327 356 341 363 337 352 374 341 366 358 371 387 394
396 412 401 428 409 437 421 449 428 456 441 433 451 464 439 447 459 431 443 452
428 441 417 433 402 421 392 408 376 397 368 381 352 369 341 358 331 347 356 334
341 362 326 349 337 318 356 329 344 309 338 363 321 347 332 356 311 341 329 348
326 344 307 339 321 351 316 329 341 304 336 322 347 313 328 301 341 324 336 317
331 312 337 305 342 318 296 329 311 347 301 324 337 294 318 341 326 302 334 311
338 309 331 346 321 338 294 313 336 321 307 344 327 338 302 342 331 322 351 337
356 337 349 368 324 359 341 362 336 352 344 329 361 338 371 352 336 357 342 361
341 362 349 327 356 338 346 368 331 359 342 327 364 351 339 361 347 331 356 342
351 332 361 343 338 352 327 363 346 358 334 351 361 329 348 342 356 339 361 327
339 352 317 341 356 332 319 311 338 304 329 296 336 317 294 323 307 338 312 302
306 328 314 337 297 318 329 347 339 357 371 348 356 341 366 352 349 361 343 371
352 374 359 341 367 352 376 363 349 371 355 369 342 361 377 348 365 353 372 341
361 342 369 358 376 344 363 351 372 359 367 346 373 353 342 368 356 379 361 347
374 356 362 347 371 358 381 363 352 367 341 376 358 362 349 371 356 343 367 359
361 342 357 371 343 364 352 338 361 349 367 357 343 371 336 355 362 347 366 351
357 369 346 361 352 374 341 366 357 349 363 371 352 359 344 367 355 362 349 366
"""
p6_high = [(18.1, 4.38), (18.5, 4.52), (18.9, 4.47), (19.3, 4.58), (19.7, 4.41), (20.1, 4.55),
           (20.5, 4.33), (20.9, 4.46), (21.3, 4.27), (19.1, 4.29), (18.7, 4.35), (17.7, 4.18),
           (17.3, 4.05), (21.7, 4.12), (22.1, 3.96), (22.5, 4.21), (22.9, 3.85)]
p6_mid = []
p6_low = [(0.1, 3.01), (0.8, 3.04), (0.8, 2.87), (0.8, 2.71), (1.2, 2.24), (1.2, 2.16),
          (7.9, 2.77), (8.7, 2.22), (8.9, 1.90), (8.3, 2.79), (10.8, 2.84), (12.9, 2.65),
          (11.2, 2.71), (21.7, 2.64), (24.2, 2.82), (23.8, 2.98), (31.2, 2.29), (31.2, 1.78),
          (31.2, 1.58), (31.2, 2.54), (29.6, 2.79), (35.9, 2.54), (36.8, 2.35), (39.3, 2.39),
          (35.5, 2.65), (35.3, 2.76), (54.7, 2.39), (54.7, 1.99), (55.6, 1.63), (54.7, 0.95),
          (57.7, 1.47), (57.9, 2.05), (56.0, 2.51), (56.4, 2.65), (57.7, 2.93), (57.3, 2.82),
          (73.3, 2.36), (74.0, 2.19), (75.4, 2.26), (75.4, 2.10), (74.0, 1.33), (75.5, 2.49),
          (75.3, 2.65), (79.9, 2.49)]
p6_zero_kb = [8.9, 21.7, 22.3, 31.2, 36.8, 37.4, 55.0, 55.4, 57.8, 73.3, 74.0]

# axis ranges (bp) of each panel
x_limits = [(-14300, 300300), (-15400, 323400), (-4500, 94500),
            (-18000, 333000), (-4000, 78600), (-3900, 84200)]
y_limits = (-0.24, 5.245)

panels = [
    (p1_band, p1_band_b, p1_line_kb, p1_step_kb, p1_offset_kb, p1_high, p1_mid, p1_low, p1_zero_kb, x_ticks_p1),
    (p2_band, p2_band_b, p2_line_kb, p2_step_kb, p2_offset_kb, p2_high, p2_mid, p2_low, p2_zero_kb, x_ticks_p2),
    (p3_band, p3_band_b, p3_line_kb, p3_step_kb, p3_offset_kb, p3_high, p3_mid, p3_low, p3_zero_kb, x_ticks_p3),
    (p4_band, p4_band_b, p4_line_kb, p4_step_kb, p4_offset_kb, p4_high, p4_mid, p4_low, p4_zero_kb, x_ticks_p4),
    (p5_band, p5_band_b, p5_line_kb, p5_step_kb, p5_offset_kb, p5_high, p5_mid, p5_low, p5_zero_kb, x_ticks_p5),
    (p6_band, p6_band_b, p6_line_kb, p6_step_kb, p6_offset_kb, p6_high, p6_mid, p6_low, p6_zero_kb, x_ticks_p6),
]


def block_points(text, line_kb, step_kb, offset_kb):
    xs, ys = [], []
    for i, line in enumerate(text.strip().splitlines()):
        for j, v in enumerate(line.split()):
            xs.append((offset_kb + i * line_kb + j * step_kb) * 1000)
            ys.append(int(v) / 100)
    return xs, ys


def panel_points(band, band_b, line_kb, step_kb, offset_kb, high, mid, low, zeros):
    xa, ya = block_points(band, line_kb, step_kb, 0.0)
    xb, yb = block_points(band_b, line_kb, step_kb, offset_kb)
    xs, ys = xa + xb, ya + yb
    for kb, v in list(high) + list(mid) + list(low):
        xs.append(kb * 1000)
        ys.append(v)
    for kb in zeros:
        xs.append(kb * 1000)
        ys.append(0.0)
    return xs, ys


# ---------------------------------------------------------------- layout
W, H = 1200, 923
fig = plt.figure(figsize=(W / 100, H / 100), dpi=100)
fig.patch.set_facecolor('white')
col_left = [63, 455, 847]
row_top = [36, 492]
pw, ph, sh = 351, 334, 35
grey50 = '#7F7F7F'
label_shift = ScaledTranslation(0.05, 0, fig.dpi_scale_trans)

for k, (band, band_b, lkb, skb, okb, high, mid, low, zeros, xt) in enumerate(panels):
    r, c = divmod(k, 3)
    l = col_left[c]
    t = row_top[r]
    ax = fig.add_axes([l / W, 1 - (t + ph) / H, pw / W, ph / H])
    sax = fig.add_axes([l / W, 1 - t / H, pw / W, sh / H])

    # strip
    sax.set_facecolor('#CCCCCC')
    sax.set_xticks([]); sax.set_yticks([])
    for sp in sax.spines.values():
        sp.set_visible(False)
    sax.text(0.5, 0.47, r'$\mathit{%s}$ %s' % (panel_species[k], panel_names[k]),
             ha='center', va='center', fontsize=16, color='#1A1A1A',
             transform=sax.transAxes)

    # panel
    ax.set_facecolor('#E5E5E5')
    for sp in ax.spines.values():
        sp.set_visible(False)
    ax.set_axisbelow(True)
    ax.set_xlim(*x_limits[k])
    ax.set_ylim(*y_limits)
    ax.set_yticks(y_ticks)
    ax.set_yticklabels([str(v) for v in y_ticks])
    ax.set_yticks([v + 0.5 for v in y_ticks[:-1]], minor=True)
    step = xt[1] - xt[0]
    minors = [xt[0] - step / 2] + [v + step / 2 for v in xt]
    lo, hi = x_limits[k]
    ax.set_xticks(xt)
    ax.set_xticks([m for m in minors if lo < m < hi], minor=True)
    ax.set_xticklabels([f'{v:,}' for v in xt], rotation=45, ha='right', va='top',
                       rotation_mode='anchor')
    for lbl in ax.get_xticklabels():
        lbl.set_transform(lbl.get_transform() + label_shift)
    ax.grid(which='major', color='white', lw=1.5)
    ax.grid(which='minor', color='#F2F2F2', lw=0.75)
    ax.tick_params(which='major', direction='out', length=8, width=1.6, color=grey50,
                   labelcolor=grey50)
    ax.tick_params(axis='y', pad=5, labelsize=13.5)
    ax.tick_params(axis='x', pad=3, labelsize=14)
    ax.tick_params(which='minor', length=0)

    xs, ys = panel_points(band, band_b, lkb, skb, okb, high, mid, low, zeros)
    ax.scatter(xs, ys, s=8.5, c='black', linewidths=0, zorder=2)

    ax.axhline(genome_mean, color='#FF0000', lw=2.9, dashes=(10.8, 10.8), zorder=3)
    ax.axhline(genome_mean + fold_band, color='#0000FF', lw=1.4, dashes=(5.4, 5.4), zorder=3)
    ax.axhline(genome_mean - fold_band, color='#0000FF', lw=1.4, dashes=(5.4, 5.4), zorder=3)

fig.text(631 / W, 1 - 907 / H, 'Window position', ha='center', va='center',
         fontsize=14.5, color='black')
fig.text(11 / W, 1 - 452 / H, r'log$_{10}$(#reads/window)', ha='center', va='center',
         rotation=90, fontsize=14.5, color='black')

fig.savefig('out.png', dpi=100)
